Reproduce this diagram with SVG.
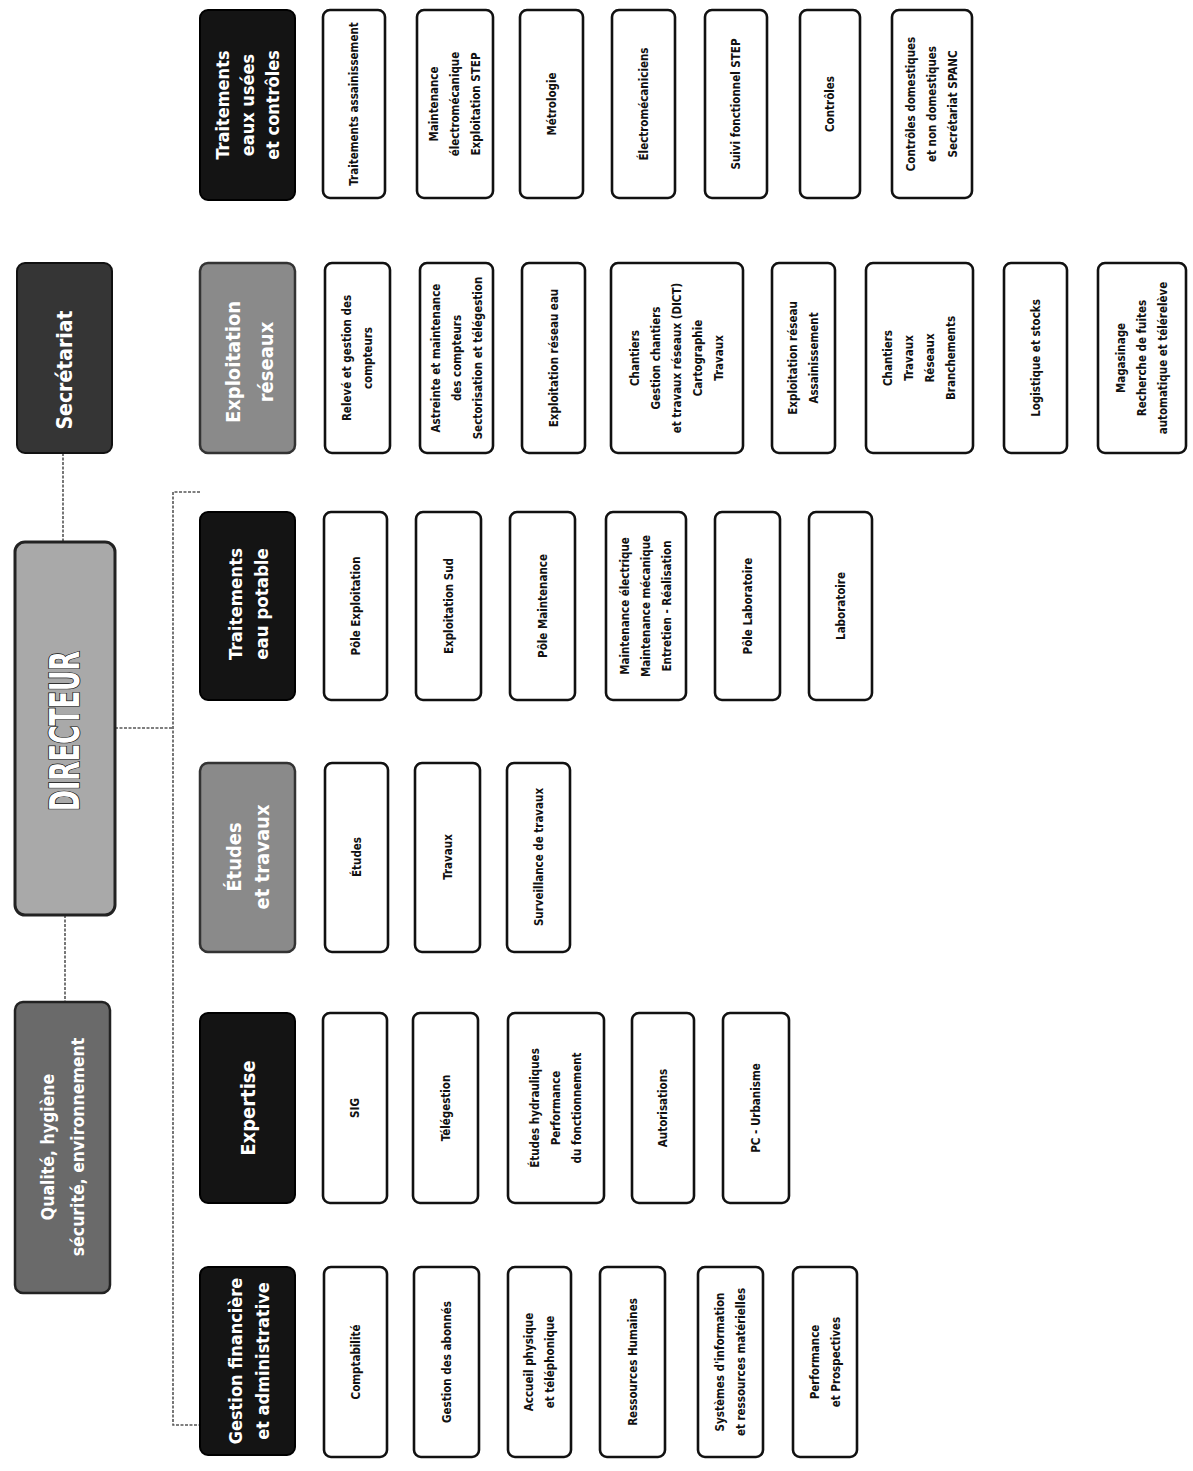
<svg xmlns="http://www.w3.org/2000/svg" width="1193" height="1471" viewBox="0 0 1193 1471">
<style>
.blk{fill:#141414;stroke:#000;stroke-width:2}
.sec{fill:#353535;stroke:#111;stroke-width:2}
.gry{fill:#8a8a8a;stroke:#333;stroke-width:2.5}
.dir{fill:#a9a9a9;stroke:#222;stroke-width:3}
.qhs{fill:#6a6a6a;stroke:#222;stroke-width:2.5}
.box{fill:#fff;stroke:#111;stroke-width:2.6}
.ht{font-family:"DejaVu Sans Condensed","Liberation Sans",sans-serif;font-weight:bold;fill:#fff;text-anchor:middle}
.ct{font-family:"DejaVu Sans Condensed","Liberation Sans",sans-serif;font-weight:bold;fill:#111;text-anchor:middle;font-size:11.5px}
.dt{font-family:"DejaVu Sans Condensed","Liberation Sans",sans-serif;font-weight:bold;fill:#fff;stroke:#111;stroke-width:1.6;paint-order:stroke;text-anchor:middle;font-size:40px}
.cn{stroke:#555;stroke-width:1.6;fill:none;stroke-dasharray:3 1.5}
</style>
<rect width="1193" height="1471" fill="#fff"/>
<g id="connectors">
<line class="cn" x1="63" y1="453" x2="63" y2="542"/>
<line class="cn" x1="65" y1="915" x2="65" y2="1002"/>
<line class="cn" x1="115" y1="728" x2="173" y2="728"/>
<polyline class="cn" points="200,492 173,492 173,1425 200,1425"/>
</g>
<!-- top level -->
<g id="secretariat"><rect class="sec" x="17" y="263" width="95" height="190" rx="8"/><text class="ht" font-size="21" transform="translate(64.5,370) rotate(-90)" y="7.5">Secrétariat</text></g>
<g id="directeur"><rect class="dir" x="15" y="542" width="100" height="373" rx="10"/><text class="dt" transform="translate(65,731) rotate(-90)" y="14" textLength="160" lengthAdjust="spacingAndGlyphs">DIRECTEUR</text></g>
<g id="qualite"><rect class="qhs" x="15" y="1002" width="95" height="291" rx="8"/><text class="ht" font-size="17.5" transform="translate(62.5,1147) rotate(-90)"><tspan x="0" y="-9">Qualité, hygiène</tspan><tspan x="0" y="21">sécurité, environnement</tspan></text></g>
<!-- headers -->
<g id="h-eaux-usees"><rect class="blk" x="200" y="10" width="95" height="190" rx="8"/><text class="ht" font-size="18" transform="translate(247.5,105) rotate(-90)"><tspan x="0" y="-19">Traitements</tspan><tspan x="0" y="6">eaux usées</tspan><tspan x="0" y="31">et contrôles</tspan></text></g>
<g id="h-exploitation"><rect class="gry" x="200" y="263" width="95" height="190" rx="8"/><text class="ht" font-size="20" transform="translate(248.5,362) rotate(-90)"><tspan x="0" y="-9">Exploitation</tspan><tspan x="0" y="24">réseaux</tspan></text></g>
<g id="h-eau-potable"><rect class="blk" x="200" y="512" width="95" height="188" rx="8"/><text class="ht" font-size="18.5" transform="translate(247.5,604) rotate(-90)"><tspan x="0" y="-6">Traitements</tspan><tspan x="0" y="20">eau potable</tspan></text></g>
<g id="h-etudes"><rect class="gry" x="200" y="763" width="95" height="189" rx="8"/><text class="ht" font-size="20" transform="translate(247.5,857) rotate(-90)"><tspan x="0" y="-7">Études</tspan><tspan x="0" y="21">et travaux</tspan></text></g>
<g id="h-expertise"><rect class="blk" x="200" y="1013" width="95" height="190" rx="8"/><text class="ht" font-size="20" transform="translate(247.5,1108) rotate(-90)" y="7">Expertise</text></g>
<g id="h-gestion"><rect class="blk" x="200" y="1267" width="95" height="188" rx="8"/><text class="ht" font-size="18" transform="translate(249,1361) rotate(-90)"><tspan x="0" y="-7">Gestion financière</tspan><tspan x="0" y="20">et administrative</tspan></text></g>
<!-- column 1 -->
<g id="c1-1"><rect class="box" x="323" y="10" width="62" height="188" rx="7"/><text class="ct" transform="translate(354,104) rotate(-90)" y="4">Traitements assainissement</text></g>
<g id="c1-2"><rect class="box" x="417" y="10" width="76" height="188" rx="7"/><text class="ct" transform="translate(455,104) rotate(-90)"><tspan x="0" y="-17">Maintenance</tspan><tspan x="0" y="4">électromécanique</tspan><tspan x="0" y="25">Exploitation STEP</tspan></text></g>
<g id="c1-3"><rect class="box" x="520" y="10" width="63" height="188" rx="7"/><text class="ct" transform="translate(551.5,104) rotate(-90)" y="4">Métrologie</text></g>
<g id="c1-4"><rect class="box" x="612" y="10" width="63" height="188" rx="7"/><text class="ct" transform="translate(643.5,104) rotate(-90)" y="4">Électromécaniciens</text></g>
<g id="c1-5"><rect class="box" x="705" y="10" width="62" height="188" rx="7"/><text class="ct" transform="translate(736,104) rotate(-90)" y="4">Suivi fonctionnel STEP</text></g>
<g id="c1-6"><rect class="box" x="800" y="10" width="60" height="188" rx="7"/><text class="ct" transform="translate(830,104) rotate(-90)" y="4">Contrôles</text></g>
<g id="c1-7"><rect class="box" x="892" y="10" width="80" height="188" rx="7"/><text class="ct" transform="translate(932,104) rotate(-90)"><tspan x="0" y="-17">Contrôles domestiques</tspan><tspan x="0" y="4">et non domestiques</tspan><tspan x="0" y="25">Secrétariat SPANC</tspan></text></g>
<!-- column 2 -->
<g id="c2-1"><rect class="box" x="325" y="263" width="65" height="190" rx="7"/><text class="ct" transform="translate(357.5,358) rotate(-90)"><tspan x="0" y="-6.5">Relevé et gestion des</tspan><tspan x="0" y="14.5">compteurs</tspan></text></g>
<g id="c2-2"><rect class="box" x="420" y="263" width="73" height="190" rx="7"/><text class="ct" transform="translate(456.5,358) rotate(-90)"><tspan x="0" y="-17">Astreinte et maintenance</tspan><tspan x="0" y="4">des compteurs</tspan><tspan x="0" y="25">Sectorisation et télégestion</tspan></text></g>
<g id="c2-3"><rect class="box" x="522" y="263" width="63" height="190" rx="7"/><text class="ct" transform="translate(553.5,358) rotate(-90)" y="4">Exploitation réseau eau</text></g>
<g id="c2-4"><rect class="box" x="611" y="263" width="132" height="190" rx="7"/><text class="ct" transform="translate(677,358) rotate(-90)"><tspan x="0" y="-38">Chantiers</tspan><tspan x="0" y="-17">Gestion chantiers</tspan><tspan x="0" y="4">et travaux réseaux (DICT)</tspan><tspan x="0" y="25">Cartographie</tspan><tspan x="0" y="46">Travaux</tspan></text></g>
<g id="c2-5"><rect class="box" x="772" y="263" width="63" height="190" rx="7"/><text class="ct" transform="translate(803.5,358) rotate(-90)"><tspan x="0" y="-6.5">Exploitation réseau</tspan><tspan x="0" y="14.5">Assainissement</tspan></text></g>
<g id="c2-6"><rect class="box" x="866" y="263" width="107" height="190" rx="7"/><text class="ct" transform="translate(919.5,358) rotate(-90)"><tspan x="0" y="-27.5">Chantiers</tspan><tspan x="0" y="-6.5">Travaux</tspan><tspan x="0" y="14.5">Réseaux</tspan><tspan x="0" y="35.5">Branchements</tspan></text></g>
<g id="c2-7"><rect class="box" x="1004" y="263" width="63" height="190" rx="7"/><text class="ct" transform="translate(1035.5,358) rotate(-90)" y="4">Logistique et stocks</text></g>
<g id="c2-8"><rect class="box" x="1098" y="263" width="88" height="190" rx="7"/><text class="ct" transform="translate(1142,358) rotate(-90)"><tspan x="0" y="-17">Magasinage</tspan><tspan x="0" y="4">Recherche de fuites</tspan><tspan x="0" y="25">automatique et télérelève</tspan></text></g>
<!-- column 3 -->
<g id="c3-1"><rect class="box" x="324" y="512" width="63" height="188" rx="7"/><text class="ct" transform="translate(355.5,606) rotate(-90)" y="4">Pôle Exploitation</text></g>
<g id="c3-2"><rect class="box" x="416" y="512" width="65" height="188" rx="7"/><text class="ct" transform="translate(448.5,606) rotate(-90)" y="4">Exploitation Sud</text></g>
<g id="c3-3"><rect class="box" x="510" y="512" width="65" height="188" rx="7"/><text class="ct" transform="translate(542.5,606) rotate(-90)" y="4">Pôle Maintenance</text></g>
<g id="c3-4"><rect class="box" x="606" y="512" width="80" height="188" rx="7"/><text class="ct" transform="translate(646,606) rotate(-90)"><tspan x="0" y="-17">Maintenance électrique</tspan><tspan x="0" y="4">Maintenance mécanique</tspan><tspan x="0" y="25">Entretien - Réalisation</tspan></text></g>
<g id="c3-5"><rect class="box" x="715" y="512" width="65" height="188" rx="7"/><text class="ct" transform="translate(747.5,606) rotate(-90)" y="4">Pôle Laboratoire</text></g>
<g id="c3-6"><rect class="box" x="809" y="512" width="63" height="188" rx="7"/><text class="ct" transform="translate(840.5,606) rotate(-90)" y="4">Laboratoire</text></g>
<!-- column 4 -->
<g id="c4-1"><rect class="box" x="325" y="763" width="63" height="189" rx="7"/><text class="ct" transform="translate(356.5,857) rotate(-90)" y="4">Études</text></g>
<g id="c4-2"><rect class="box" x="415" y="763" width="65" height="189" rx="7"/><text class="ct" transform="translate(447.5,857) rotate(-90)" y="4">Travaux</text></g>
<g id="c4-3"><rect class="box" x="507" y="763" width="63" height="189" rx="7"/><text class="ct" transform="translate(538.5,857) rotate(-90)" y="4">Surveillance de travaux</text></g>
<!-- column 5 -->
<g id="c5-1"><rect class="box" x="323" y="1013" width="64" height="190" rx="7"/><text class="ct" transform="translate(355,1108) rotate(-90)" y="4">SIG</text></g>
<g id="c5-2"><rect class="box" x="413" y="1013" width="65" height="190" rx="7"/><text class="ct" transform="translate(445.5,1108) rotate(-90)" y="4">Télégestion</text></g>
<g id="c5-3"><rect class="box" x="508" y="1013" width="96" height="190" rx="7"/><text class="ct" transform="translate(556,1108) rotate(-90)"><tspan x="0" y="-17">Études hydrauliques</tspan><tspan x="0" y="4">Performance</tspan><tspan x="0" y="25">du fonctionnement</tspan></text></g>
<g id="c5-4"><rect class="box" x="632" y="1013" width="62" height="190" rx="7"/><text class="ct" transform="translate(663,1108) rotate(-90)" y="4">Autorisations</text></g>
<g id="c5-5"><rect class="box" x="723" y="1013" width="66" height="190" rx="7"/><text class="ct" transform="translate(756,1108) rotate(-90)" y="4">PC - Urbanisme</text></g>
<!-- column 6 -->
<g id="c6-1"><rect class="box" x="324" y="1267" width="63" height="190" rx="7"/><text class="ct" transform="translate(355.5,1362) rotate(-90)" y="4">Comptabilité</text></g>
<g id="c6-2"><rect class="box" x="414" y="1267" width="65" height="190" rx="7"/><text class="ct" transform="translate(446.5,1362) rotate(-90)" y="4">Gestion des abonnés</text></g>
<g id="c6-3"><rect class="box" x="508" y="1267" width="63" height="190" rx="7"/><text class="ct" transform="translate(539.5,1362) rotate(-90)"><tspan x="0" y="-6.5">Accueil physique</tspan><tspan x="0" y="14.5">et téléphonique</tspan></text></g>
<g id="c6-4"><rect class="box" x="600" y="1267" width="65" height="190" rx="7"/><text class="ct" transform="translate(632.5,1362) rotate(-90)" y="4">Ressources Humaines</text></g>
<g id="c6-5"><rect class="box" x="698" y="1267" width="65" height="190" rx="7"/><text class="ct" transform="translate(730.5,1362) rotate(-90)"><tspan x="0" y="-6.5">Systèmes d'information</tspan><tspan x="0" y="14.5">et ressources matérielles</tspan></text></g>
<g id="c6-6"><rect class="box" x="793" y="1267" width="64" height="190" rx="7"/><text class="ct" transform="translate(825,1362) rotate(-90)"><tspan x="0" y="-6.5">Performance</tspan><tspan x="0" y="14.5">et Prospectives</tspan></text></g>
</svg>
